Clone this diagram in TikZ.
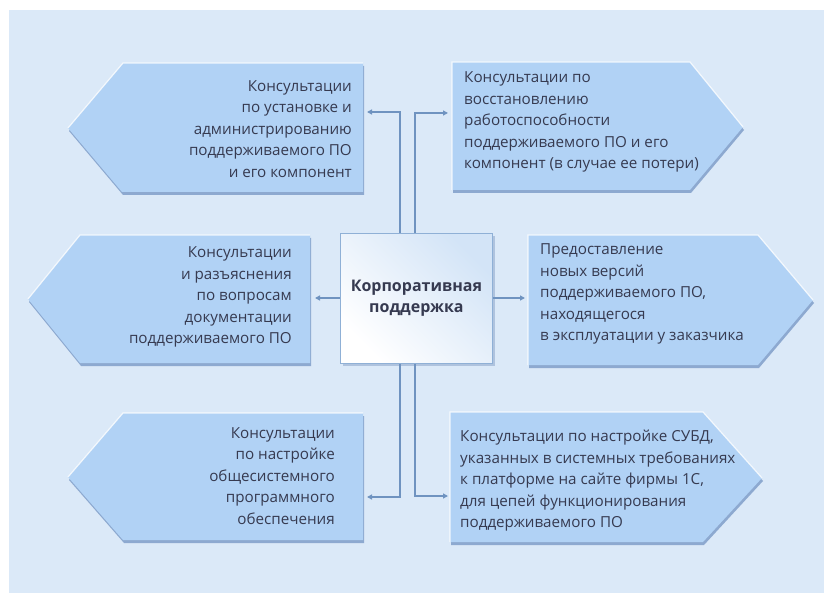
\documentclass[tikz,border=0pt]{standalone}
\usepackage{fontspec}
\setmainfont{Open Sans}
\usetikzlibrary{arrows.meta,shadings}
\definecolor{bgc}{HTML}{DBE9F8}
\definecolor{shapec}{HTML}{B1D2F5}
\definecolor{shadowc}{HTML}{8DA9D0}
\definecolor{linec}{HTML}{6F93C0}
\definecolor{txtc}{HTML}{363A50}
\definecolor{boxc}{HTML}{D3E4F7}
\definecolor{boxborder}{HTML}{8FB0D6}
\tikzset{
  shp/.style={fill=shapec},
  shd/.style={fill=shadowc},
  hl/.style={draw=white, opacity=0.8, line width=1.2pt},
  lbl/.style={text=txtc, font=\fontsize{15.2}{21.5}\selectfont, inner sep=0pt},
  arr/.style={draw=linec, line width=1.3pt, -{Triangle[length=5pt,width=5pt]}},
}
\begin{document}
\begin{tikzpicture}[x=1pt,y=-1pt]
\useasboundingbox (0,0) rectangle (824,593);
\fill[bgc] (9,10) rectangle (824,593);

% top-left A
\fill[shd] (124,66) -- (364,66) -- (364,195) -- (123,195) -- (69,131) -- cycle;
\fill[shp] (123,63) -- (363,63) -- (363,192) -- (122,192) -- (68,128) -- cycle;
\draw[hl] (68,128) -- (123,63) -- (363,63);
% top-right B
\fill[shd] (453,65) -- (691,65) -- (744,130) -- (691,193) -- (453,193) -- cycle;
\fill[shp] (452,62) -- (690,62) -- (743,127) -- (690,190) -- (452,190) -- cycle;
\draw[hl] (452,190) -- (452,62) -- (690,62) -- (743,127);
% mid-left C
\fill[shd] (81,238) -- (311,238) -- (311,366) -- (81,366) -- (29,302) -- cycle;
\fill[shp] (80,235) -- (310,235) -- (310,363) -- (80,363) -- (28,299) -- cycle;
\draw[hl] (28,299) -- (80,235) -- (310,235);
% mid-right D
\fill[shd] (529,238) -- (759,238) -- (814,303) -- (759,368) -- (529,368) -- cycle;
\fill[shp] (528,235) -- (758,235) -- (813,300) -- (758,365) -- (528,365) -- cycle;
\draw[hl] (528,365) -- (528,235) -- (758,235) -- (813,300);
% bottom-left E
\fill[shd] (124,416) -- (364,416) -- (364,543) -- (124,543) -- (69,480) -- cycle;
\fill[shp] (123,413) -- (363,413) -- (363,540) -- (123,540) -- (68,477) -- cycle;
\draw[hl] (68,477) -- (123,413) -- (363,413);
% bottom-right F
\fill[shd] (451,415) -- (704,415) -- (763,481) -- (704,545) -- (451,545) -- cycle;
\fill[shp] (450,412) -- (703,412) -- (762,478) -- (703,542) -- (450,542) -- cycle;
\draw[hl] (450,542) -- (450,412) -- (703,412) -- (762,478);

% labels
\node[lbl, align=right, anchor=east] (tA) at (352,129) {Консультации\\по установке и\\администрированию\\поддерживаемого ПО\\и его компонент};
\node[lbl, align=left, anchor=west] (tB) at (464,122) {Консультации по\\восстановлению\\работоспособности\\поддерживаемого ПО и его\\компонент (в случае ее потери)};
\node[lbl, align=right, anchor=east] (tC) at (292,297) {Консультации\\и разъяснения\\по вопросам\\документации\\поддерживаемого ПО};
\node[lbl, align=left, anchor=west] (tD) at (540,294) {Предоставление\\новых версий\\поддерживаемого ПО,\\находящегося\\в эксплуатации у заказчика};
\node[lbl, align=right, anchor=east] (tE) at (335,476) {Консультации\\по настройке\\общесистемного\\программного\\обеспечения};
\node[lbl, align=left, anchor=west] (tF) at (460,481) {Консультации по настройке СУБД,\\указанных в системных требованиях\\к платформе на сайте фирмы 1С,\\для цепей функционирования\\поддерживаемого ПО};

% connectors
\coordinate (xL) at (400,0);
\coordinate (xR) at (415,0);
\coordinate (aA) at (367,112);
\coordinate (aB) at (448,113);
\coordinate (aE) at (367,497);
\coordinate (aF) at (448,496);
\coordinate (aC) at (315,298);
\coordinate (aD) at (525,298);

% center box
\fill[shadowc!70] (343,236) rectangle (495,366);
\node[draw=boxborder, line width=0.8pt, left color=white, right color=boxc, shading angle=135,
      minimum width=152pt, minimum height=130pt, inner sep=0pt, anchor=north west,
      text=txtc, font=\fontsize{16}{21}\selectfont\bfseries, align=center] (cen) at (340,233)
      {Корпоративная\\поддержка};

\draw[arr] (cen.north -| xL) |- (aA);
\draw[arr] (cen.north -| xR) |- (aB);
\draw[arr] (cen.south -| xL) |- (aE);
\draw[arr] (cen.south -| xR) |- (aF);
\draw[arr] (cen.west |- aC) -- (aC);
\draw[arr] (cen.east |- aD) -- (aD);
\end{tikzpicture}
\end{document}
